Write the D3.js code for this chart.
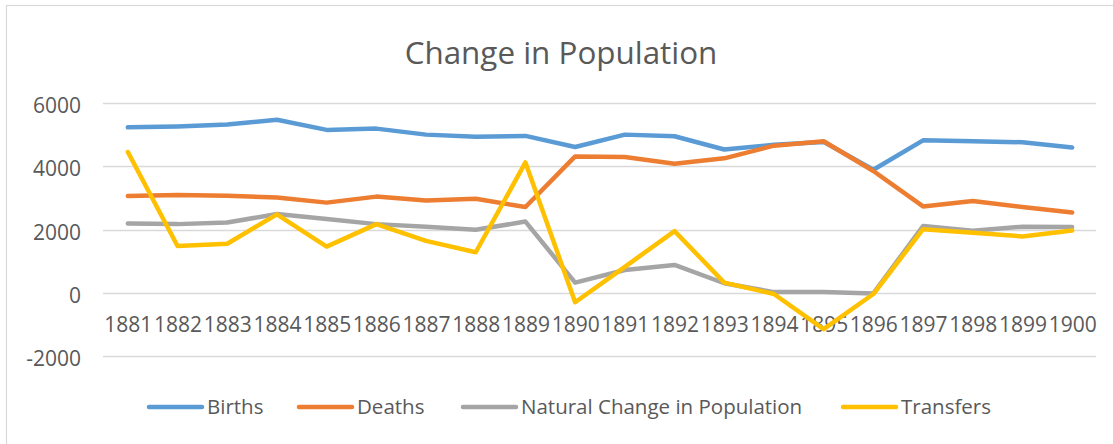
<!DOCTYPE html>
<html>
<head>
<meta charset="utf-8">
<script src="https://cdn.jsdelivr.net/npm/d3@7"></script>
<style>
  html, body { margin: 0; padding: 0; background: #fff; }
  svg { display: block; font-family: "Open Sans", sans-serif; }
</style>
</head>
<body>
<svg id="chart" width="1113" height="444"></svg>
<script>
const title = "Change in Population";
const years = ["1881","1882","1883","1884","1885","1886","1887","1888","1889","1890",
               "1891","1892","1893","1894","1895","1896","1897","1898","1899","1900"];
const births = [5230, 5260, 5320, 5470, 5150, 5190, 5000, 4930, 4960, 4610,
                5000, 4950, 4530, 4680, 4770, 3890, 4820, 4790, 4760, 4590];
const deaths = [3060, 3090, 3070, 3010, 2850, 3040, 2920, 2970, 2710, 4310,
                4290, 4080, 4250, 4650, 4790, 3850, 2730, 2900, 2710, 2540];
const naturalChange = [2190, 2170, 2220, 2490, 2330, 2170, 2090, 1990, 2250, 320,
                       720, 880, 300, 20, 20, -20, 2110, 1960, 2090, 2080];
const transfers = [4450, 1480, 1550, 2480, 1460, 2170, 1640, 1280, 4120, -300,
                   820, 1950, 320, -40, -1150, -40, 2010, 1900, 1780, 1970];
const yTicks = [-2000, 0, 2000, 4000, 6000];

const seriesNames = ["Births", "Deaths", "Natural Change in Population", "Transfers"];
const seriesValues = [births, deaths, naturalChange, transfers];
const colors = ["#5B9BD5", "#ED7D31", "#A5A5A5", "#FFC000"];

const svg = d3.select("#chart");
const textColor = "#595959";

// outer chart border
svg.append("rect").attr("x", 6.5).attr("y", 5.5).attr("width", 1120).attr("height", 450)
  .attr("fill", "none").attr("stroke", "#d9d9d9").attr("stroke-width", 1.2);

const x = d3.scalePoint().domain(years).range([103, 1097]).padding(0.5);
const y = d3.scaleLinear().domain([-2000, 6000]).range([356, 103]);

// gridlines
svg.append("g").selectAll("line").data(yTicks).join("line")
  .attr("x1", 103).attr("x2", 1096)
  .attr("y1", d => Math.round(y(d)) + 0.5).attr("y2", d => Math.round(y(d)) + 0.5)
  .attr("stroke", "#d9d9d9").attr("stroke-width", 1.3);

// y axis labels
const yAxis = d3.axisLeft(y).tickValues(yTicks).tickSize(0).tickPadding(0).tickFormat(d => String(d));
const gy = svg.append("g").attr("transform", "translate(81,3)").call(yAxis);
gy.select(".domain").remove();
gy.selectAll("text").attr("fill", textColor).style("font-size", "21px").style("font-family", "'Open Sans', sans-serif");

// x axis labels
const xAxis = d3.axisBottom(x).tickSize(0).tickPadding(0);
const gx = svg.append("g").attr("transform", "translate(0,317)").call(xAxis);
gx.select(".domain").remove();
gx.selectAll("text").attr("fill", textColor).style("font-size", "21px").style("font-family", "'Open Sans', sans-serif");

// lines
const line = d3.line().x((d, i) => x(years[i])).y(d => y(d));
svg.append("g").selectAll("path").data(seriesValues).join("path")
  .attr("d", d => line(d))
  .attr("fill", "none")
  .attr("stroke", (d, i) => colors[i])
  .attr("stroke-width", 4.5)
  .attr("stroke-linejoin", "round")
  .attr("stroke-linecap", "round");

// title
svg.append("text").attr("x", 561).attr("y", 64).attr("text-anchor", "middle")
  .attr("fill", textColor).style("font-size", "31.4px").text(title);

// legend
const legendX = [149, 299, 463, 843];
const lg = svg.append("g").selectAll("g").data(seriesNames).join("g")
  .attr("transform", (d, i) => `translate(${legendX[i]},407)`);
lg.append("line").attr("x1", 0).attr("x2", 53).attr("y1", 0).attr("y2", 0)
  .attr("stroke", (d, i) => colors[i]).attr("stroke-width", 4.5).attr("stroke-linecap", "round");
lg.append("text").attr("x", 58).attr("y", 0).attr("dy", "0.35em")
  .attr("fill", textColor).style("font-size", "20.5px").text(d => d);
</script>
</body>
</html>
